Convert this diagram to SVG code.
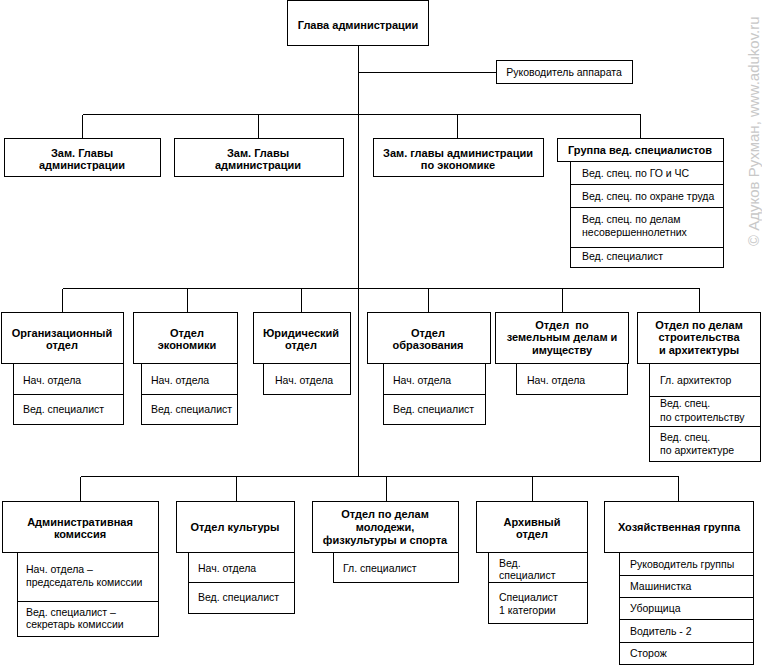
<svg xmlns="http://www.w3.org/2000/svg" width="762" height="666" viewBox="0 0 762 666">
<style>
.bx{fill:#fff;stroke:#000;stroke-width:1;shape-rendering:crispEdges}
.ln{fill:none;stroke:#000;stroke-width:1;shape-rendering:crispEdges}
text{font-family:"Liberation Sans",Arial,sans-serif;font-size:10.5px;fill:#000}
.b{font-weight:bold;font-size:11px;text-anchor:middle}
.c{text-anchor:middle}
.wm{font-size:15px;fill:#c8c8c8}
</style>
<rect width="762" height="666" fill="#fff"/>
<g id="connectors">
<path class="ln" d="M358.5 45V476.5M358.5 72.5H496.5"/>
<path class="ln" d="M82.5 114.5H640.5M82.5 114.5V138.5M258.5 114.5V138.5M457.5 114.5V138.5M640.5 114.5V138.5"/>
<path class="ln" d="M62.5 288.5H699.5M62.5 288.5V312.5M187.5 288.5V312.5M301.5 288.5V312.5M428.5 288.5V312.5M562.5 288.5V312.5M699.5 288.5V312.5"/>
<path class="ln" d="M80.5 476.5H678.5M80.5 476.5V501.5M236.5 476.5V501.5M386.5 476.5V501.5M532.5 476.5V501.5M678.5 476.5V501.5"/>
</g>
<g id="head"><rect class="bx" x="287.5" y="0.5" width="141" height="45"/><text class="b" x="358" y="29">Глава администрации</text></g>
<g id="ruk"><rect class="bx" x="496.5" y="60.5" width="136" height="23"/><text class="c" x="564" y="76">Руководитель аппарата</text></g>
<g id="zam1"><rect class="bx" x="4.5" y="138.5" width="156" height="38"/><text class="b" x="82" y="157">Зам. Главы</text><text class="b" x="82" y="169">администрации</text></g>
<g id="zam2"><rect class="bx" x="174.5" y="138.5" width="169" height="38"/><text class="b" x="258" y="157">Зам. Главы</text><text class="b" x="258" y="169">администрации</text></g>
<g id="zam3"><rect class="bx" x="373.5" y="138.5" width="170" height="38"/><text class="b" x="458" y="157">Зам. главы администрации</text><text class="b" x="458" y="169">по экономике</text></g>
<g id="group">
<rect class="bx" x="557.5" y="138.5" width="166" height="23"/><text class="b" x="640" y="154">Группа вед. специалистов</text>
<rect class="bx" x="570.5" y="161.5" width="153" height="23"/><text x="582" y="177">Вед. спец. по ГО и ЧС</text>
<rect class="bx" x="570.5" y="184.5" width="153" height="23"/><text x="582" y="200">Вед. спец. по охране труда</text>
<rect class="bx" x="570.5" y="207.5" width="153" height="40"/><text x="582" y="223">Вед. спец. по делам</text><text x="582" y="236">несовершеннолетних</text>
<rect class="bx" x="570.5" y="247.5" width="153" height="20"/><text x="582" y="260">Вед. специалист</text>
</g>
<g id="org">
<rect class="bx" x="1.5" y="312.5" width="122" height="51"/><text class="b" x="62" y="337">Организационный</text><text class="b" x="62" y="349">отдел</text>
<rect class="bx" x="13.5" y="363.5" width="110" height="31"/><text x="23" y="384">Нач. отдела</text>
<rect class="bx" x="13.5" y="394.5" width="110" height="30"/><text x="23" y="413">Вед. специалист</text>
</g>
<g id="econ">
<rect class="bx" x="133.5" y="312.5" width="104" height="51"/><text class="b" x="187" y="337">Отдел</text><text class="b" x="187" y="349">экономики</text>
<rect class="bx" x="141.5" y="363.5" width="96" height="31"/><text x="151" y="384">Нач. отдела</text>
<rect class="bx" x="141.5" y="394.5" width="96" height="30"/><text x="151" y="413">Вед. специалист</text>
</g>
<g id="jur">
<rect class="bx" x="253.5" y="312.5" width="97" height="51"/><text class="b" x="301" y="337">Юридический</text><text class="b" x="301" y="349">отдел</text>
<rect class="bx" x="263.5" y="363.5" width="87" height="31"/><text x="275" y="384">Нач. отдела</text>
</g>
<g id="obr">
<rect class="bx" x="367.5" y="312.5" width="123" height="51"/><text class="b" x="428" y="337">Отдел</text><text class="b" x="428" y="349">образования</text>
<rect class="bx" x="383.5" y="363.5" width="102" height="31"/><text x="393" y="384">Нач. отдела</text>
<rect class="bx" x="383.5" y="394.5" width="102" height="30"/><text x="393" y="413">Вед. специалист</text>
</g>
<g id="zem">
<rect class="bx" x="495.5" y="312.5" width="133" height="51"/><text class="b" x="562" y="329" xml:space="preserve">Отдел  по</text><text class="b" x="562" y="341">земельным делам и</text><text class="b" x="562" y="354">имуществу</text>
<rect class="bx" x="516.5" y="363.5" width="111" height="31"/><text x="527" y="384">Нач. отдела</text>
</g>
<g id="str">
<rect class="bx" x="637.5" y="312.5" width="123" height="51"/><text class="b" x="699" y="329">Отдел по делам</text><text class="b" x="699" y="341">строительства</text><text class="b" x="699" y="354">и архитектуры</text>
<rect class="bx" x="649.5" y="363.5" width="111" height="33"/><text x="660" y="384">Гл. архитектор</text>
<rect class="bx" x="649.5" y="396.5" width="111" height="30"/><text x="660" y="407">Вед. спец.</text><text x="660" y="421">по строительству</text>
<rect class="bx" x="649.5" y="426.5" width="111" height="35"/><text x="660" y="441">Вед. спец.</text><text x="660" y="454">по архитектуре</text>
</g>
<g id="adm">
<rect class="bx" x="2.5" y="501.5" width="156" height="51"/><text class="b" x="80" y="526">Административная</text><text class="b" x="80" y="538">комиссия</text>
<rect class="bx" x="17.5" y="552.5" width="141" height="49"/><text x="26" y="573">Нач. отдела –</text><text x="26" y="586">председатель комиссии</text>
<rect class="bx" x="17.5" y="601.5" width="141" height="35"/><text x="26" y="616">Вед. специалист –</text><text x="26" y="628">секретарь комиссии</text>
</g>
<g id="cult">
<rect class="bx" x="176.5" y="501.5" width="118" height="51"/><text class="b" x="235" y="531">Отдел культуры</text>
<rect class="bx" x="188.5" y="552.5" width="106" height="30"/><text x="198" y="572">Нач. отдела</text>
<rect class="bx" x="188.5" y="582.5" width="106" height="31"/><text x="198" y="601">Вед. специалист</text>
</g>
<g id="mol">
<rect class="bx" x="312.5" y="501.5" width="146" height="51"/><text class="b" x="385" y="518">Отдел по делам</text><text class="b" x="385" y="531">молодежи,</text><text class="b" x="385" y="544">физкультуры и спорта</text>
<rect class="bx" x="333.5" y="552.5" width="125" height="30"/><text x="343" y="572">Гл. специалист</text>
</g>
<g id="arch">
<rect class="bx" x="476.5" y="501.5" width="111" height="51"/><text class="b" x="532" y="526">Архивный</text><text class="b" x="532" y="538">отдел</text>
<rect class="bx" x="488.5" y="552.5" width="99" height="30"/><text x="499" y="567">Вед.</text><text x="499" y="579">специалист</text>
<rect class="bx" x="488.5" y="582.5" width="99" height="41"/><text x="499" y="601">Специалист</text><text x="499" y="614">1 категории</text>
</g>
<g id="hoz">
<rect class="bx" x="604.5" y="501.5" width="149" height="51"/><text class="b" x="679" y="531">Хозяйственная группа</text>
<rect class="bx" x="619.5" y="552.5" width="134" height="23"/><text x="630" y="568">Руководитель группы</text>
<rect class="bx" x="619.5" y="575.5" width="134" height="22"/><text x="630" y="590">Машинистка</text>
<rect class="bx" x="619.5" y="597.5" width="134" height="22"/><text x="630" y="612">Уборщица</text>
<rect class="bx" x="619.5" y="619.5" width="134" height="23"/><text x="630" y="635">Водитель - 2</text>
<rect class="bx" x="619.5" y="642.5" width="134" height="22"/><text x="630" y="657">Сторож</text>
</g>
<text class="wm" transform="translate(759 246) rotate(-90)">© Адуков Рухман, www.adukov.ru</text>
</svg>
